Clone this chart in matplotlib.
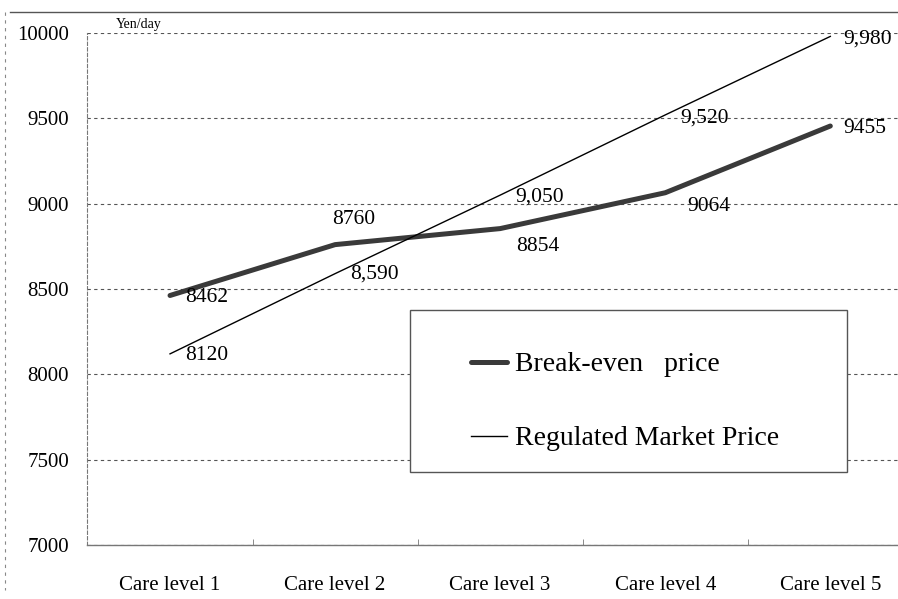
import matplotlib.pyplot as plt
from matplotlib.lines import Line2D
from matplotlib.patches import Rectangle

# data
levels = ["Care level 1", "Care level 2", "Care level 3", "Care level 4", "Care level 5"]
break_even = [8462, 8760, 8854, 9064, 9455]
regulated = [8120, 8590, 9050, 9520, 9980]
be_labels = ["8462", "8760", "8854", "9064", "9455"]
reg_labels = ["8120", "8,590", "9,050", "9,520", "9,980"]
# label offsets in points (dx, dy)
be_off = [(11, -1.5), (-2, 18), (11.5, -13), (16, -10), (9.5, -1.5)]
reg_off = [(11, -1), (11, 0), (11, -1.5), (11, -2), (9.5, -2)]

plt.rcParams['font.family'] = ['Liberation Serif', 'DejaVu Serif']

W, H = 898, 599
fig = plt.figure(figsize=(W / 100, H / 100), dpi=100)
ax = fig.add_axes([87 / W, 1 - 545 / H, (898 - 87) / W, (545 - 33) / H])

x = range(len(levels))
ax.plot(x, break_even, color="#3a3a3a", lw=3.6, solid_capstyle='round', zorder=4,
        label="Break-even   price")
ax.plot(x, regulated, color="black", lw=1.0, zorder=4, label="Regulated Market Price")

for i in x:
    ax.annotate(be_labels[i], (i, break_even[i]), xytext=be_off[i], textcoords='offset points',
                ha='left', va='center', fontsize=15.5, zorder=5)
    ax.annotate(reg_labels[i], (i, regulated[i]), xytext=reg_off[i], textcoords='offset points',
                ha='left', va='center', fontsize=15.5, zorder=5)

ax.set_xlim(-0.503, 4.41)
ax.set_ylim(7000, 10000)
ax.set_yticks(range(7000, 10001, 500))
ax.set_yticklabels([str(v) for v in range(7000, 10001, 500)], fontsize=15)
ax.set_xticks(list(x))
ax.set_xticklabels(levels, fontsize=15)
ax.set_xticks([0.5, 1.5, 2.5, 3.5], minor=True)
ax.tick_params(axis='both', which='major', length=0)
ax.tick_params(axis='y', which='major', pad=13)
ax.tick_params(axis='x', which='major', pad=22)
ax.tick_params(axis='x', which='minor', direction='in', length=4, color="#777777")
ax.tick_params(axis='y', which='minor', length=0)

ax.grid(axis='y', linestyle=(0, (3, 3)), color="#555555", lw=0.8, zorder=1)
for s in ['top', 'right']:
    ax.spines[s].set_visible(False)
ax.spines['left'].set_linestyle((0, (3, 2)))
ax.spines['left'].set_color("#777777")
ax.spines['left'].set_linewidth(0.8)
ax.spines['bottom'].set_color("#777777")
ax.spines['bottom'].set_linewidth(1.0)

ax.text(0.036, 1.003, "Yen/day", transform=ax.transAxes, fontsize=10, ha='left', va='bottom')

# legend box (white, hides the grid inside it)
box = Rectangle((410 / W, 1 - 472 / H), (847 - 410) / W, (472 - 310) / H, transform=fig.transFigure,
                facecolor='white', edgecolor="#555555", lw=1.0, zorder=3, clip_on=False)
ax.add_artist(box)
leg = ax.legend(loc='upper left', bbox_to_anchor=(457 / W, 1 - 338 / H), bbox_transform=fig.transFigure,
                frameon=False, fontsize=20, handlelength=1.3, handletextpad=0.3,
                labelspacing=1.75, borderpad=0)
leg.set_zorder(6)

# outer frame of the scanned figure
fig.add_artist(Line2D([10 / W, 1.0], [1 - 12 / H, 1 - 12 / H], transform=fig.transFigure,
                      color="#555555", lw=1.0))
fig.add_artist(Line2D([5 / W, 5 / W], [1 - 12 / H, 1 - 590 / H], transform=fig.transFigure,
                      color="#888888", lw=0.8, linestyle=(0, (3, 4))))

fig.savefig("out.png", dpi=100)
